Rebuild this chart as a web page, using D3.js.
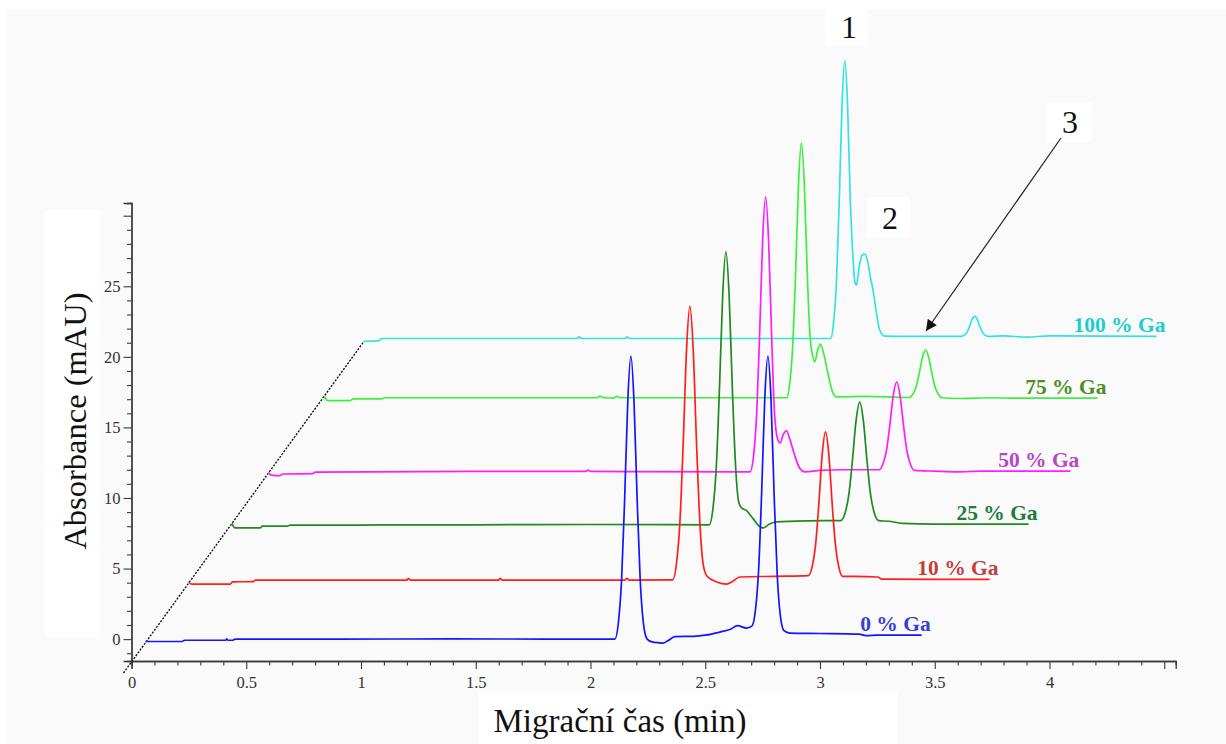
<!DOCTYPE html>
<html>
<head>
<meta charset="utf-8">
<script src="https://cdn.jsdelivr.net/npm/d3@7"></script>
<style>
  html, body { margin: 0; padding: 0; background: #ffffff; }
  svg { display: block; }
  text { font-family: "Liberation Serif", "Times New Roman", serif; }
</style>
</head>
<body>
<svg id="chart" width="1226" height="744"></svg>
<script>
// Electropherograms for increasing Ga content, stacked as a waterfall.
// Each trace: [migration time (min), absorbance (mAU)] on the shared axes.
const ga0 = [
  [0.061,-0.17],[0.22,-0.17],[0.232,-0.08],[0.41,-0.08],[0.415,0.02],[0.42,-0.08],[0.44,-0.08],[0.452,0.0],
  [0.9,0.0],[1.4,0.02],[1.8,0.0],[2.106,0.0],
  [2.122,1.25],[2.1355,4.21],[2.149,10.03],[2.1625,16.86],[2.176,20.05],[2.1895,16.86],[2.203,10.03],
  [2.2165,4.21],[2.23,1.2],[2.246,0.02],[2.268,-0.2],[2.3,-0.26],[2.316,-0.28],[2.337,-0.12],[2.368,0.18],
  [2.45,0.2],[2.5,0.28],[2.564,0.5],[2.61,0.7],[2.64,0.95],[2.68,0.78],[2.703,0.92],
  [2.719,2.1],[2.7325,4.9],[2.746,10.5],[2.7595,17.1],[2.773,20.05],[2.7865,17.0],[2.8,10.3],[2.8135,4.6],
  [2.827,1.7],[2.843,0.6],[2.869,0.43],[3.0,0.4],[3.17,0.35],[3.2,0.25],[3.25,0.28],[3.443,0.28]
];
const ga10 = [
  [0.249,4.05],[0.262,3.9],[0.43,3.9],[0.44,4.05],[0.53,4.08],[0.54,4.18],[1.2,4.18],[1.206,4.3],[1.215,4.18],
  [1.6,4.18],[1.606,4.3],[1.615,4.18],[2.15,4.18],[2.159,4.3],[2.168,4.18],[2.358,4.2],
  [2.375,5.41],[2.3895,8.27],[2.404,13.9],[2.4185,20.51],[2.433,23.59],[2.4475,20.51],[2.462,13.9],
  [2.4765,8.27],[2.491,5.3],[2.508,4.45],[2.55,4.05],[2.593,3.9],[2.62,4.1],[2.651,4.4],[2.8,4.45],[2.949,4.5],
  [2.966,5.14],[2.9805,6.64],[2.995,9.6],[3.0095,13.07],[3.024,14.69],[3.0385,13.07],[3.053,9.6],
  [3.0675,6.64],[3.082,5.1],[3.099,4.45],[3.15,4.45],[3.25,4.4],[3.27,4.25],[3.5,4.23],[3.739,4.23]
];
const ga25 = [
  [0.438,8.2],[0.45,7.88],[0.56,7.88],[0.57,8.0],[0.68,8.0],[0.69,8.08],[1.0,8.08],[1.2,8.1],[1.5,8.1],
  [2.0,8.12],[2.517,8.1],
  [2.534,9.31],[2.548,12.16],[2.562,17.77],[2.576,24.37],[2.59,27.44],[2.604,24.37],[2.618,17.77],
  [2.632,12.3],[2.646,9.7],[2.658,9.3],[2.68,9.1],[2.71,8.5],[2.735,8.0],[2.752,7.88],[2.78,8.15],
  [2.81,8.31],[2.95,8.38],[3.09,8.4],
  [3.109,8.92],[3.125,10.16],[3.141,12.6],[3.157,15.46],[3.173,16.79],[3.189,15.46],[3.205,12.6],
  [3.221,10.16],[3.237,8.92],[3.256,8.4],[3.3,8.35],[3.36,8.2],[3.5,8.15],[3.909,8.15]
];
const ga50 = [
  [0.596,11.8],[0.61,11.62],[0.645,11.58],[0.66,11.7],[0.79,11.72],[0.8,11.83],[1.5,11.88],[1.98,11.88],
  [1.99,11.98],[2.0,11.88],[2.695,11.85],
  [2.711,13.07],[2.724,15.94],[2.737,21.6],[2.75,28.24],[2.763,31.34],[2.776,28.24],[2.789,21.6],
  [2.802,15.94],[2.815,14.2],[2.826,13.9],[2.84,14.5],[2.854,14.76],[2.868,14.2],[2.89,13.0],[2.912,12.1],
  [2.934,11.85],[3.0,11.95],[3.1,12.0],[3.256,12.0],
  [3.274,12.39],[3.289,13.31],[3.304,15.12],[3.319,17.24],[3.334,18.23],[3.349,17.24],[3.364,15.12],
  [3.379,13.31],[3.394,12.39],[3.412,11.95],[3.5,11.9],[3.6,11.85],[3.7,11.9],[4.091,11.9]
];
const ga75 = [
  [0.84,17.19],[0.855,16.9],[0.955,16.9],[0.965,17.02],[1.09,17.02],[1.1,17.1],[1.5,17.1],[2.03,17.1],
  [2.04,17.22],[2.06,17.1],[2.1,17.08],[2.115,17.2],[2.13,17.1],[2.854,17.1],
  [2.869,18.23],[2.8815,20.89],[2.894,26.13],[2.9065,32.29],[2.919,35.16],[2.9315,32.29],[2.944,26.13],
  [2.9565,21.5],[2.969,20.0],[2.977,19.65],[2.99,20.5],[3.002,20.9],[3.015,20.3],[3.035,18.8],[3.055,17.5],
  [3.072,17.17],[3.2,17.2],[3.387,17.12],
  [3.404,17.33],[3.418,17.82],[3.432,18.8],[3.446,19.94],[3.46,20.47],[3.474,19.94],[3.488,18.8],
  [3.502,17.82],[3.516,17.33],[3.533,17.1],[3.6,17.05],[3.75,17.1],[3.85,17.07],[4.209,17.07]
];
const ga100 = [
  [1.011,21.1],[1.08,21.15],[1.09,21.3],[1.5,21.3],[1.94,21.3],[1.95,21.42],[1.96,21.3],[2.15,21.3],
  [2.16,21.42],[2.17,21.3],[3.046,21.3],
  [3.06,22.55],[3.072,25.45],[3.084,31.15],[3.096,37.85],[3.108,41.0],[3.12,37.85],[3.132,31.15],
  [3.144,27.0],[3.152,25.3],[3.159,25.08],[3.17,26.3],[3.183,27.2],[3.195,27.28],[3.207,26.8],[3.22,25.6],
  [3.231,24.74],[3.245,23.2],[3.26,21.9],[3.282,21.47],[3.4,21.45],[3.615,21.45],
  [3.63,21.55],[3.641,21.75],[3.652,22.17],[3.663,22.65],[3.674,22.88],[3.685,22.65],[3.696,22.17],
  [3.707,21.75],[3.718,21.55],[3.733,21.45],[3.8,21.48],[3.9,21.4],[4.0,21.48],[4.466,21.45]
];

const seriesNames = ["0 % Ga", "10 % Ga", "25 % Ga", "50 % Ga", "75 % Ga", "100 % Ga"];
const seriesData = [ga0, ga10, ga25, ga50, ga75, ga100];
const lineColors = ["#1414ff", "#ff1e1e", "#1f8a1f", "#ff1cff", "#3ef03e", "#34e2e2"];
const labelColors = ["#3242d2", "#c2403a", "#1c7c3a", "#b847c4", "#4d8f22", "#22cccc"];

// Depth guide joining the trace origins
const depthGuide = [[-0.035, -2.4], [1.013, 21.1]];

const xMajorTicks = [0, 0.5, 1, 1.5, 2, 2.5, 3, 3.5, 4, 4.5];
const xTickLabels = ["0", "0.5", "1", "1.5", "2", "2.5", "3", "3.5", "4", ""];
const yMajorTicks = [0, 5, 10, 15, 20, 25, 30];
const yTickLabels = ["0", "5", "10", "15", "20", "25", ""];

const peakMarks = ["1", "2", "3"];

const SERIF = "'Liberation Serif', 'Times New Roman', Times, serif";

const svg = d3.select("#chart");
const W = 1226, H = 744;

// page background
svg.append("rect").attr("x", 0).attr("y", 0).attr("width", W).attr("height", H).attr("fill", "#ffffff");
svg.append("rect").attr("x", 7).attr("y", 10).attr("width", W - 7).attr("height", H - 10).attr("fill", "#fafafa");

const x = d3.scaleLinear().domain([0, 4.55]).range([131.5, 131.5 + 4.55 * 229.5]);
const y = d3.scaleLinear().domain([-1.55, 30.9]).range([661, 203]);

// title backdrops
svg.append("rect").attr("x", 45).attr("y", 210).attr("width", 55).attr("height", 427).attr("fill", "#ffffff");
svg.append("rect").attr("x", 478).attr("y", 692).attr("width", 420).attr("height", 52).attr("fill", "#ffffff");

// axes
const axisColor = "#3a3a3a";
function styleAxis(g) {
  g.attr("font-family", SERIF).attr("font-size", 16.5);
  g.select(".domain").attr("stroke", axisColor).attr("stroke-width", 1.3);
  g.selectAll(".tick line").attr("stroke", axisColor).attr("stroke-width", 1.1);
  g.selectAll(".tick text")
    .attr("fill", "#333")
    .style("font-family", SERIF)
    .style("font-size", "16.5px");
}

const xMinor = d3.range(0, 46).map(i => i / 10).filter(v => !xMajorTicks.some(m => Math.abs(m - v) < 1e-6));
const yMinor = d3.range(-1, 31).filter(v => !yMajorTicks.includes(v));

svg.append("g")
  .attr("transform", `translate(0,${y(-1.55)})`)
  .call(d3.axisBottom(x).tickValues(xMinor).tickSize(4.5).tickFormat(""))
  .call(styleAxis);
svg.append("g")
  .attr("transform", `translate(0,${y(-1.55)})`)
  .call(d3.axisBottom(x).tickValues(xMajorTicks).tickSize(8).tickPadding(7)
        .tickFormat((d, i) => xTickLabels[i]))
  .call(styleAxis);

svg.append("g")
  .attr("transform", `translate(${x(0)},0)`)
  .call(d3.axisLeft(y).tickValues(yMinor).tickSize(4.5).tickFormat(""))
  .call(styleAxis);
svg.append("g")
  .attr("transform", `translate(${x(0)},0)`)
  .call(d3.axisLeft(y).tickValues(yMajorTicks).tickSize(8).tickPadding(3)
        .tickFormat((d, i) => yTickLabels[i]))
  .call(styleAxis);

// axis titles
svg.append("text")
  .attr("transform", "translate(86,421) rotate(-90)")
  .attr("text-anchor", "middle")
  .attr("fill", "#111")
  .style("font-family", SERIF)
  .style("font-size", "32.5px")
  .text("Absorbance (mAU)");
svg.append("text")
  .attr("x", 620).attr("y", 731.5)
  .attr("text-anchor", "middle")
  .attr("fill", "#111")
  .style("font-family", SERIF)
  .style("font-size", "33px")
  .text("Migrační čas (min)");

// depth guide
svg.append("path")
  .attr("d", d3.line().x(d => x(d[0])).y(d => y(d[1]))(depthGuide))
  .attr("fill", "none")
  .attr("stroke", "#111")
  .attr("stroke-width", 1.4)
  .attr("stroke-dasharray", "2,1.5");

// traces, back row first
const line = d3.line().x(d => x(d[0])).y(d => y(d[1])).curve(d3.curveMonotoneX);
const order = d3.range(seriesData.length).reverse();
svg.append("g").selectAll("path")
  .data(order)
  .join("path")
  .attr("d", i => line(seriesData[i]))
  .attr("fill", "none")
  .attr("stroke", i => lineColors[i])
  .attr("stroke-width", 1.7)
  .attr("stroke-linejoin", "round");

// trace labels at the end of each trace
svg.append("g").selectAll("text")
  .data(d3.range(seriesData.length))
  .join("text")
  .attr("x", i => x(seriesData[i][seriesData[i].length - 1][0]) + 9)
  .attr("y", i => y(seriesData[i][seriesData[i].length - 1][1]) - 4)
  .attr("text-anchor", "end")
  .attr("fill", i => labelColors[i])
  .style("font-family", SERIF)
  .style("font-size", "21.5px")
  .style("font-weight", "bold")
  .text(i => seriesNames[i]);

// peak numbering
const markBoxes = [
  { x: 825, y: 10, w: 43, h: 35, tx: 849, ty: 38 },
  { x: 867, y: 197, w: 43, h: 40, tx: 890, ty: 229 },
  { x: 1047, y: 102, w: 44, h: 40, tx: 1070, ty: 133 }
];
markBoxes.forEach((b, i) => {
  svg.append("rect").attr("x", b.x).attr("y", b.y).attr("width", b.w).attr("height", b.h).attr("fill", "#ffffff");
  svg.append("text").attr("x", b.tx).attr("y", b.ty).attr("text-anchor", "middle")
    .attr("fill", "#111").style("font-family", SERIF).style("font-size", "32px").text(peakMarks[i]);
});

// arrow to peak 3
svg.append("defs").append("marker")
  .attr("id", "arrowHead")
  .attr("viewBox", "0 0 10 10")
  .attr("refX", 10).attr("refY", 5)
  .attr("markerWidth", 14).attr("markerHeight", 11)
  .attr("markerUnits", "userSpaceOnUse")
  .attr("orient", "auto")
  .append("path").attr("d", "M0,0 L10,5 L0,10 Z").attr("fill", "#111");
svg.append("line")
  .attr("x1", 1061).attr("y1", 138)
  .attr("x2", 926).attr("y2", 331)
  .attr("stroke", "#222").attr("stroke-width", 1.2)
  .attr("marker-end", "url(#arrowHead)");
</script>
</body>
</html>
